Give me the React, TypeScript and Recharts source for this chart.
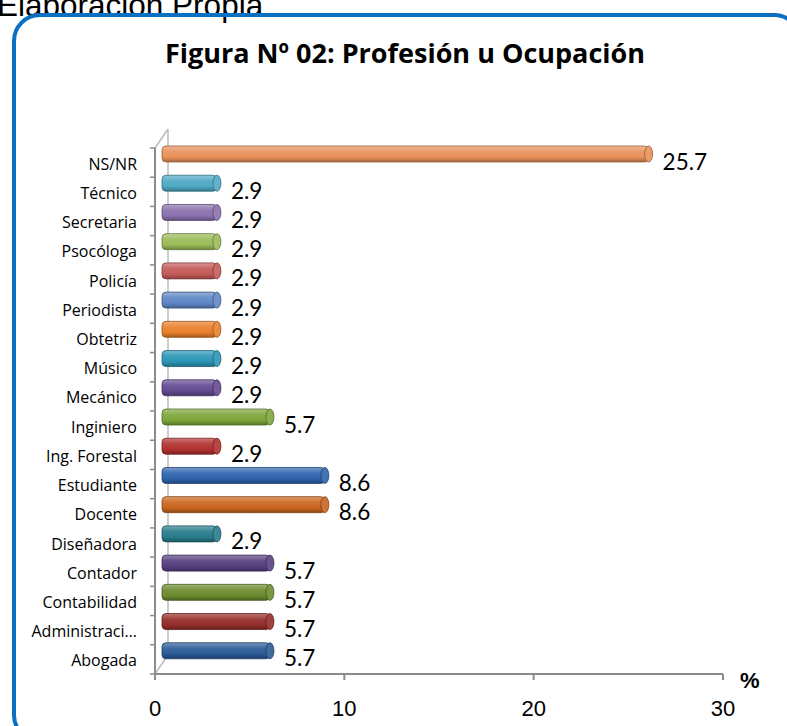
import React from 'react'
import {
  BarChart,
  Bar,
  XAxis,
  YAxis,
  Cell,
  LabelList,
  usePlotArea,
} from 'recharts'

// categories listed bottom to top, as in the source sheet
const categories = [
  'Abogada',
  'Administraci…',
  'Contabilidad',
  'Contador',
  'Diseñadora',
  'Docente',
  'Estudiante',
  'Ing. Forestal',
  'Inginiero',
  'Mecánico',
  'Músico',
  'Obtetriz',
  'Periodista',
  'Policía',
  'Psocóloga',
  'Secretaria',
  'Técnico',
  'NS/NR',
]

const percentages = [
  5.7, 5.7, 5.7, 5.7, 2.9, 8.6, 8.6, 2.9, 5.7, 2.9, 2.9, 2.9, 2.9, 2.9, 2.9, 2.9, 2.9, 25.7,
]

const barColors = [
  '#2b5a96', '#952d2b', '#6b8c2e', '#574080', '#287b8b', '#c9661f',
  '#2e63ad', '#b13030', '#7ea63a', '#644a92', '#2b97b5', '#e8802a',
  '#5f86c4', '#c45a58', '#9bbb59', '#8b71ae', '#4fa8c4', '#e8915a',
]

const xTicks = [0, 10, 20, 30]

const data = categories.map((name, i) => ({ name, value: percentages[i] }))

const CALIBRI = 'Lato, "Open Sans", sans-serif'
const SANS = '"Open Sans", "Noto Sans", sans-serif'
const ARIAL = '"Liberation Sans", Arial, sans-serif'
const AXIS_GRAY = '#8c8c8c'

// 3D depth offsets
const BAR_DX = 7
const BAR_DY = -9
const WALL_DX = 13
const WALL_DY = -19

function mix(hex: string, target: number, amount: number) {
  const n = parseInt(hex.slice(1), 16)
  const ch = [(n >> 16) & 255, (n >> 8) & 255, n & 255].map((c) =>
    Math.round(c + (target - c) * amount)
  )
  return `rgb(${ch[0]},${ch[1]},${ch[2]})`
}

function Wall() {
  const area = usePlotArea()
  if (!area) return null
  const { x, y, height } = area
  return (
    <g stroke="#bcbcbc" strokeWidth={1.5} fill="none">
      <line x1={x + WALL_DX} y1={y + WALL_DY} x2={x + WALL_DX} y2={y + height + WALL_DY} />
      <line x1={x} y1={y} x2={x + WALL_DX} y2={y + WALL_DY} />
      <line x1={x} y1={y + height} x2={x + WALL_DX} y2={y + height + WALL_DY} />
      <line x1={x} y1={y} x2={x} y2={y + height} stroke={AXIS_GRAY} strokeWidth={2} />
    </g>
  )
}

function CylinderBar(props: any) {
  const { x, y, width, height, index } = props
  const color = barColors[index]
  const left = x + BAR_DX
  const top = y + BAR_DY
  const r = 4
  return (
    <g>
      <rect
        x={left}
        y={top}
        width={Math.max(width, 0)}
        height={height}
        rx={r}
        ry={r}
        fill={`url(#cyl-${index})`}
        stroke={mix(color, 0, 0.35)}
        strokeWidth={0.8}
      />
      <ellipse
        cx={left + width}
        cy={top + height / 2}
        rx={r}
        ry={height / 2}
        fill={mix(color, 255, 0.1)}
        stroke={mix(color, 0, 0.35)}
        strokeWidth={0.8}
      />
    </g>
  )
}

function ValueLabel(props: any) {
  const { x, y, width, height, value } = props
  return (
    <text
      x={x + width + 21}
      y={y + height / 2 - 2}
      fontFamily={CALIBRI}
      fontSize={22.5}
      fill="#000"
      dominantBaseline="central"
    >
      {value}
    </text>
  )
}

function CategoryTick(props: any) {
  const { x, y, payload, index, height } = props
  const band = (height || 526) / categories.length
  return (
    <g>
      <line x1={x - 5} y1={y - band / 2} x2={x} y2={y - band / 2} stroke={AXIS_GRAY} strokeWidth={1.5} />
      {index === 0 && (
        <line x1={x - 5} y1={y + band / 2} x2={x} y2={y + band / 2} stroke={AXIS_GRAY} strokeWidth={1.5} />
      )}
      <text
        x={x - 18}
        y={y + 1}
        textAnchor="end"
        dominantBaseline="central"
        fontFamily={SANS}
        fontSize={16}
        fill="#000"
      >
        {payload.value}
      </text>
    </g>
  )
}

export default function App() {
  return (
    <div
      style={{
        position: 'absolute',
        left: 0,
        top: 0,
        width: 787,
        height: 726,
        overflow: 'hidden',
        background: '#fff',
      }}
    >
      <div
        style={{
          position: 'absolute',
          left: -3,
          top: -13,
          fontFamily: ARIAL,
          fontSize: 31.5,
          color: '#000',
          whiteSpace: 'nowrap',
        }}
      >
        Elaboración Propia
      </div>
      <div
        style={{
          position: 'absolute',
          left: 12,
          top: 13,
          width: 790,
          height: 730,
          border: '4px solid #0b6fc2',
          borderRadius: 28,
          boxSizing: 'border-box',
        }}
      />
      <div
        style={{
          position: 'absolute',
          left: 0,
          top: 34,
          width: 810,
          textAlign: 'center',
          fontFamily: SANS,
          fontWeight: 700,
          fontSize: 27,
          color: '#000',
          whiteSpace: 'nowrap',
        }}
      >
        Figura Nº 02: Profesión u Ocupación
      </div>
      <div style={{ position: 'absolute', left: 0, top: 0 }}>
        <BarChart
          layout="vertical"
          width={787}
          height={726}
          data={data}
          margin={{ top: 148, right: 64, bottom: 0, left: 0 }}
          barSize={16}
        >
          <defs>
            {barColors.map((c, i) => (
              <linearGradient key={i} id={`cyl-${i}`} x1="0" y1="0" x2="0" y2="1">
                <stop offset="0%" stopColor={mix(c, 255, 0.35)} />
                <stop offset="35%" stopColor={mix(c, 255, 0.08)} />
                <stop offset="70%" stopColor={c} />
                <stop offset="100%" stopColor={mix(c, 0, 0.3)} />
              </linearGradient>
            ))}
          </defs>
          <Wall />
          <XAxis
            type="number"
            domain={[0, 30]}
            ticks={xTicks}
            interval={0}
            height={52}
            axisLine={{ stroke: AXIS_GRAY, strokeWidth: 2 }}
            tickLine={{ stroke: AXIS_GRAY, strokeWidth: 2 }}
            tickSize={6}
            tickMargin={20}
            tick={{ fontFamily: ARIAL, fontSize: 22, fill: '#000' }}
          />
          <YAxis
            type="category"
            dataKey="name"
            reversed
            width={155}
            interval={0}
            axisLine={false}
            tickLine={false}
            tickSize={0}
            tickMargin={0}
            tick={<CategoryTick />}
          />
          <Bar dataKey="value" isAnimationActive={false} shape={<CylinderBar />}>
            {data.map((d, i) => (
              <Cell key={d.name} fill={barColors[i]} />
            ))}
            <LabelList dataKey="value" content={<ValueLabel />} />
          </Bar>
        </BarChart>
      </div>
      <div
        style={{
          position: 'absolute',
          left: 740,
          top: 668,
          fontFamily: ARIAL,
          fontWeight: 700,
          fontSize: 22,
          color: '#000',
        }}
      >
        %
      </div>
    </div>
  )
}
